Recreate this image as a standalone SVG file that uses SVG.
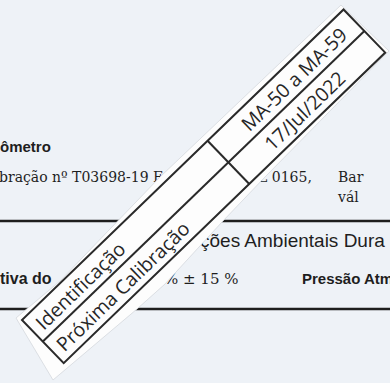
<svg xmlns="http://www.w3.org/2000/svg" width="390" height="383" viewBox="0 0 390 383">
<style>
.sans{font-family:"Liberation Sans",Arial,sans-serif;fill:#1e1e1e}
.b{font-weight:bold}
.serif{font-family:"DejaVu Serif","Liberation Serif",serif;fill:#1e1e1e}
.rule{stroke:#1e1e1e;stroke-width:2.5}
.lbl{font-family:"Open Sans","Noto Sans",sans-serif;font-size:19.5px;fill:#262626}
.bd{fill:none;stroke:#2a2a2a;stroke-width:2}
</style>
<rect width="390" height="383" fill="#eef2f7"/>
<g id="document">
<text class="sans b" x="0" y="152" font-size="15">ômetro</text>
<text class="serif" x="-1" y="182" font-size="14">bração nº T03698-19 F</text>
<text class="serif" x="258" y="182" font-size="14">L 0165,</text>
<text class="serif" x="338" y="182" font-size="14">Bar</text>
<text class="serif" x="338" y="202" font-size="14">vál</text>
<line class="rule" x1="0" y1="221" x2="390" y2="221"/>
<text class="sans" x="200" y="247" font-size="19">ções Ambientais Dura</text>
<text class="sans b" x="0" y="284" font-size="16">tiva do</text>
<text class="serif" x="164" y="284" font-size="15">% ± 15 %</text>
<text class="sans b" x="302" y="284" font-size="15">Pressão Atm</text>
<line class="rule" x1="0" y1="309" x2="390" y2="309"/>
</g>
<g id="sticker">
<polygon points="16,318 60,281 160,177 341,5 389,51 265,177 222,222 165,284 137,309 53,380" fill="#fdfdfd" stroke="#d4d8dd" stroke-width="0.8"/>
<g transform="translate(22,320) rotate(-44)">
<rect class="bd" x="0" y="0" width="447" height="60"/>
<line class="bd" x1="0" y1="30" x2="447" y2="30"/>
<line class="bd" x1="258" y1="0" x2="258" y2="60"/>
<g id="cell-label-1"><text class="lbl" x="8" y="23">Identificação</text></g>
<g id="cell-label-2"><text class="lbl" x="8" y="53">Próxima Calibração</text></g>
<g id="cell-value-1"><text class="lbl" x="294" y="23">MA-50 a MA-59</text></g>
<g id="cell-value-2"><text class="lbl" x="297" y="53">17/Jul/2022</text></g>
</g>
</g>
</svg>
